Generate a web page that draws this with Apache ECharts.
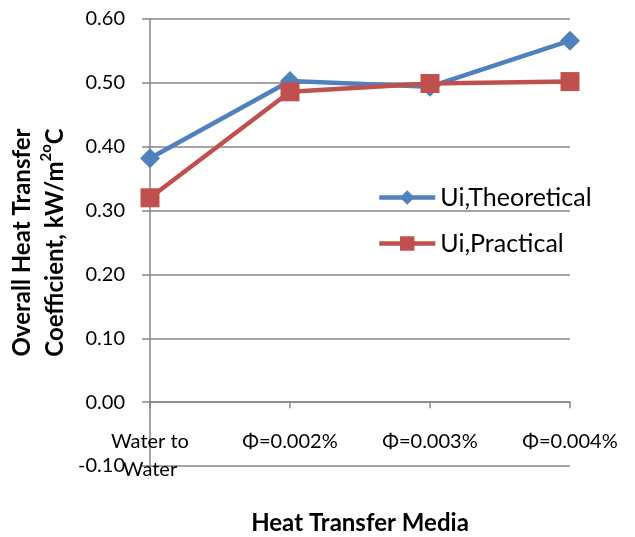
<!DOCTYPE html>
<html><head><meta charset="utf-8">
<script src="https://cdn.jsdelivr.net/npm/echarts@6/dist/echarts.min.js"></script>
<style>html,body{margin:0;padding:0;background:#fff}#c{width:635px;height:537px}</style>
</head><body><div id="c"></div>
<script>
const categories = ['Water to\nWater', 'Φ=0.002%', 'Φ=0.003%', 'Φ=0.004%'];
const theoretical = [0.382, 0.503, 0.494, 0.566];
const practical = [0.320, 0.486, 0.499, 0.502];
const FONT = 'Lato';
const chart = echarts.init(document.getElementById('c'));
chart.setOption({
  animation: false,
  textStyle: { fontFamily: FONT },
  grid: { left: 150, right: 65, top: 19, bottom: 71, containLabel: false, outerBoundsMode: 'none' },
  legend: {
    orient: 'vertical', left: 372, top: 180, itemWidth: 56, itemHeight: 18, itemGap: 21,
    textStyle: { fontSize: 25, color: '#000', fontFamily: FONT },
    lineStyle: { width: 4.5 },
    data: ['Ui,Theoretical', 'Ui,Practical']
  },
  xAxis: {
    type: 'category', data: categories, boundaryGap: false,
    name: 'Heat Transfer Media', nameLocation: 'middle', nameGap: 45,
    nameTextStyle: { fontSize: 24, fontWeight: 'bold', color: '#000', fontFamily: FONT },
    axisLine: { onZero: true, lineStyle: { color: '#868686', width: 1.5 } },
    axisTick: { show: true, length: 6, alignWithLabel: true, lineStyle: { color: '#868686', width: 1.5 } },
    axisLabel: { interval: 0, fontSize: 20, color: '#000', margin: -38, lineHeight: 28, fontFamily: FONT },
    splitLine: { show: false }
  },
  yAxis: {
    type: 'value', min: -0.1, max: 0.6, interval: 0.1,
    name: '{a|Overall Heat Transfer}\n{a|Coefficient, kW/m}{s|2o}{a|C}',
    nameLocation: 'middle', nameGap: 63,
    nameTextStyle: {
      color: '#000', fontFamily: FONT,
      rich: {
        a: { fontSize: 24, fontWeight: 'bold', fontFamily: FONT, color: '#000', lineHeight: 33 },
        s: { fontSize: 15, fontWeight: 'bold', fontFamily: FONT, color: '#000', verticalAlign: 'top', lineHeight: 33 }
      }
    },
    axisLine: { show: true, onZero: false, lineStyle: { color: '#868686', width: 1.5 } },
    axisTick: { show: true, length: 8, lineStyle: { color: '#868686', width: 1.5 } },
    axisLabel: { fontSize: 20, color: '#000', margin: 25, fontFamily: FONT, formatter: v => v.toFixed(2) },
    splitLine: { show: true, lineStyle: { color: '#868686', width: 1.5 } }
  },
  series: [
    { name: 'Ui,Theoretical', type: 'line', data: theoretical, symbol: 'diamond', symbolSize: 20,
      itemStyle: { color: '#4F81BD' }, lineStyle: { color: '#4F81BD', width: 4.5 } },
    { name: 'Ui,Practical', type: 'line', data: practical, symbol: 'rect', symbolSize: 19,
      itemStyle: { color: '#C0504D' }, lineStyle: { color: '#C0504D', width: 4.5 } }
  ]
});
</script></body></html>
